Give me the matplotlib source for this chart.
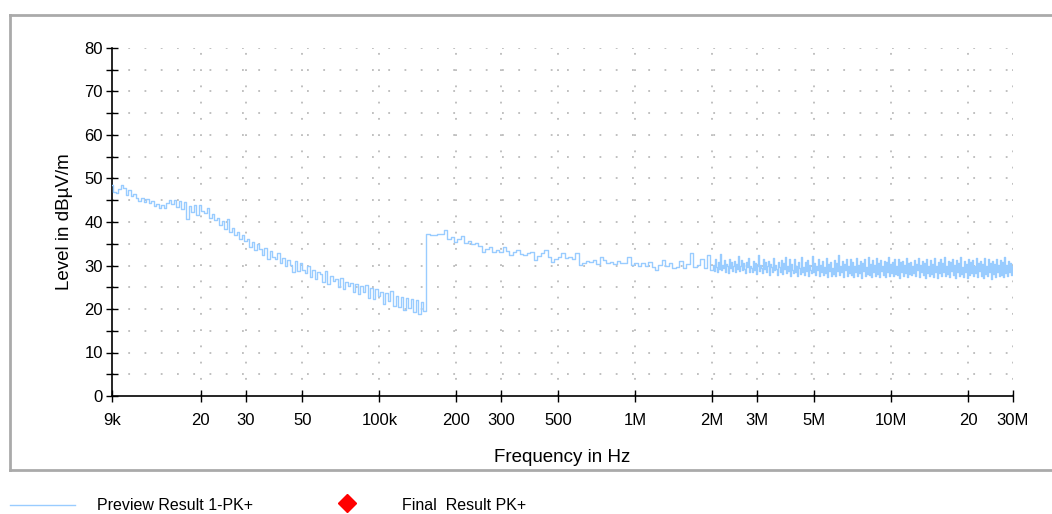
import numpy as np
import matplotlib
matplotlib.use("Agg")
import matplotlib.pyplot as plt
from matplotlib.lines import Line2D

plt.rcParams['font.family'] = ['Liberation Sans', 'DejaVu Sans']

# ---- data -------------------------------------------------------------
# sweep segments (Hz): start / stop of each measured band
seg1_range = [9e3, 150e3]
seg2_range = [150e3, 2e6]
seg3_range = [2e6, 30e6]

seg1_levels = [
    48.5, 47.0, 46.6, 47.5, 48.5,
    47.8, 46.2, 47.3, 45.9, 46.4, 45.5,
    44.8, 45.6, 44.6, 45.2, 44.4, 44.9,
    43.6, 44.2, 43.3, 43.9, 43.2, 44.4,
    45.0, 44.2, 45.0, 43.5, 44.8, 43.0,
    44.5, 40.8, 43.6, 42.2, 44.0, 41.5,
    43.8, 42.5, 42.0, 43.2, 41.0, 41.8,
    40.5, 41.0, 39.2, 40.2, 38.5, 40.8,
    37.8, 38.6, 37.0, 37.6, 36.2, 37.0,
    35.6, 36.2, 34.2, 35.3, 33.5, 35.0,
    33.8, 32.4, 34.0, 31.6, 33.3, 32.0,
    31.5, 32.8, 30.5, 31.8, 29.8, 31.2,
    30.2, 28.6, 31.0, 28.8, 30.5, 29.0,
    28.2, 29.8, 27.4, 29.0, 26.8, 28.6,
    28.0, 26.2, 28.8, 25.8, 27.6, 26.4,
    27.0, 25.0, 27.2, 24.6, 26.2, 25.2,
    26.0, 23.8, 25.8, 23.4, 25.4, 24.0,
    25.6, 22.6, 24.8, 22.4, 24.6, 23.0,
    24.0, 21.2, 23.6, 21.8, 24.2, 20.8,
    23.0, 20.4, 22.8, 19.8, 22.6, 20.2,
    22.4, 19.4, 22.0, 18.8, 21.6, 19.6,
]

seg2_levels = [
    37.2, 36.9, 37.1, 37.3, 37.2, 38.2, 36.1, 36.6, 35.4, 36.2,
    36.8, 35.2, 35.6, 35.0, 35.2, 34.5, 33.1, 33.9, 34.3, 33.2,
    33.6, 33.0, 34.3, 33.4, 32.4, 33.0, 33.6, 32.6, 32.4, 32.9,
    33.1, 31.3, 32.2, 32.8, 33.6, 32.0, 30.8, 31.6, 32.0, 32.9,
    31.8, 32.0, 31.4, 32.9, 30.1, 30.6, 31.0, 30.8, 31.3, 30.4,
    32.0, 31.2, 30.6, 30.8, 30.3, 31.0, 30.5, 30.6, 32.0, 30.2,
    30.6, 29.8, 30.6, 30.0, 30.8, 29.6, 29.0, 30.2, 31.3, 29.8,
    30.5, 29.5, 29.7, 31.0, 29.4, 30.4, 32.9, 29.6, 30.1, 31.4,
    29.4, 32.4, 29.0,
]

seg3_levels = [
    30.2, 28.8, 31.4, 29.6, 28.4, 30.9, 29.2, 32.6, 28.9, 30.1, 29.5, 31.2, 28.6, 30.4, 29.8, 28.3, 31.6, 29.4, 30.7, 28.8,
    29.9, 31.0, 28.5, 30.3, 29.1, 32.1, 28.7, 29.8, 31.3, 28.9, 30.6, 29.3, 28.2, 30.8, 29.7, 31.7, 28.6, 30.0, 29.4, 28.4,
    31.1, 29.0, 30.5, 28.1, 29.9, 32.4, 28.8, 30.2, 29.5, 28.3, 31.5, 29.2, 30.7, 28.6, 29.8, 31.0, 27.9, 30.4, 29.6, 28.5,
    31.8, 28.9, 30.1, 29.3, 27.8, 30.9, 29.7, 28.4, 31.2, 28.0, 30.6, 29.1, 32.0, 28.2, 29.9, 28.7, 31.4, 27.7, 30.3, 29.0,
    28.3, 31.6, 28.6, 30.0, 27.6, 30.8, 29.4, 28.1, 31.9, 28.5, 29.6, 27.9, 30.7, 28.8, 31.3, 27.5, 30.2, 29.0, 28.2, 32.1,
    28.4, 30.5, 27.8, 29.8, 28.9, 31.5, 27.6, 30.1, 28.6, 31.0, 27.9, 29.7, 28.3, 31.7, 27.4, 30.4, 28.8, 30.9, 27.7, 29.5,
    28.1, 31.2, 27.5, 30.6, 28.7, 32.3, 27.8, 29.9, 28.4, 31.1, 27.3, 30.3, 28.9, 31.6, 27.6, 30.0, 28.2, 31.4, 27.9, 30.7,
    27.4, 29.8, 28.6, 31.8, 27.7, 30.2, 28.3, 31.0, 27.2, 30.5, 28.8, 31.5, 27.5, 29.7, 28.1, 32.0, 27.8, 30.4, 27.3, 31.2,
    28.5, 30.1, 27.6, 31.7, 28.0, 30.6, 27.4, 31.3, 28.7, 29.9, 27.9, 31.0, 27.3, 30.8, 28.4, 31.9, 27.6, 30.3, 28.2, 30.9,
    27.5, 31.4, 28.1, 30.0, 27.8, 31.6, 27.2, 30.7, 28.6, 31.1, 27.7, 30.2, 28.3, 31.8, 27.4, 30.5, 28.0, 30.9, 27.9, 29.8,
    28.2, 31.3, 27.6, 30.4, 28.9, 31.7, 27.3, 30.1, 28.5, 31.0, 27.8, 30.6, 27.2, 31.5, 28.3, 29.9, 27.6, 31.2, 28.0, 30.3,
    27.4, 31.8, 28.6, 30.0, 27.1, 30.9, 28.2, 31.4, 27.7, 30.5, 28.4, 32.0, 27.5, 29.8, 28.1, 31.1, 27.3, 30.7, 28.7, 31.6,
    27.9, 30.2, 27.2, 31.3, 28.4, 30.6, 27.6, 31.9, 28.0, 29.7, 27.4, 31.0, 28.6, 30.4, 27.1, 31.5, 27.8, 30.8, 28.3, 31.2,
    27.5, 30.0, 28.2, 31.7, 27.3, 30.5, 28.8, 31.1, 27.6, 30.3, 27.2, 31.8, 28.1, 29.9, 27.7, 31.4, 28.4, 30.6, 27.0, 31.0,
    28.0, 30.4, 27.4, 31.6, 28.5, 30.1, 27.6, 31.3, 27.9, 30.7, 27.3, 31.9, 28.2, 30.2, 27.5, 31.1, 28.6, 30.5, 27.8, 30.0,
]

x_ticks = [9e3, 20e3, 30e3, 50e3, 100e3, 200e3, 300e3, 500e3,
           1e6, 2e6, 3e6, 5e6, 10e6, 20e6, 30e6]
x_ticklabels = ['9k', '20', '30', '50', '100k', '200', '300', '500',
                '1M', '2M', '3M', '5M', '10M', '20', '30M']
y_ticks = [0, 10, 20, 30, 40, 50, 60, 70, 80]

# ---- build trace -------------------------------------------------------
f1 = np.geomspace(seg1_range[0], seg1_range[1], len(seg1_levels))
f2 = np.geomspace(seg2_range[0], seg2_range[1], len(seg2_levels) + 1)[1:]
f3 = np.geomspace(seg3_range[0], seg3_range[1], len(seg3_levels) + 1)[1:]
freq = np.concatenate([f1, f2, f3])
level = np.concatenate([seg1_levels, seg2_levels, seg3_levels])

# ---- figure -----------------------------------------------------------
W, H = 1052, 514
fig = plt.figure(figsize=(W / 100, H / 100), dpi=100)
ax = fig.add_axes([112 / W, 1 - 396 / H, (1013 - 112) / W, (396 - 48) / H])

line_color = '#99CCFF'
ax.plot(freq, level, color=line_color, lw=1.0, drawstyle='steps-mid', zorder=3)

ax.set_xscale('log')
ax.set_xlim(9e3, 30e6)
ax.set_ylim(0, 80)

ax.set_xticks(x_ticks)
ax.set_xticklabels(x_ticklabels)
ax.xaxis.set_minor_locator(matplotlib.ticker.NullLocator())
ax.set_yticks(y_ticks)
ax.set_yticks(np.arange(5, 80, 10), minor=True)

for s in ['top', 'right']:
    ax.spines[s].set_visible(False)
for s in ['left', 'bottom']:
    ax.spines[s].set_color('black')
    ax.spines[s].set_linewidth(1.2)

ax.tick_params(axis='both', which='both', direction='inout', length=9,
               width=1.0, colors='black', labelsize=12)
ax.tick_params(axis='x', pad=8)
ax.tick_params(axis='y', pad=2)

# dotted grid
grid_kw = dict(color='#BBBBBB', lw=1.3, linestyle=(0, (1, 8)), zorder=1)
for yv in np.arange(5, 81, 5):
    ax.axhline(yv, **grid_kw)
for xv in x_ticks[1:]:
    ax.axvline(xv, **grid_kw)

ax.set_ylabel('Level in dBµV/m', fontsize=13.5, labelpad=8)
ax.set_xlabel('Frequency in Hz', fontsize=13.5, labelpad=15)

# outer frame
frame_kw = dict(color='#AAAAAA', lw=2, transform=fig.transFigure, clip_on=False)
fig.add_artist(Line2D([10 / W, 1.0], [1 - 15 / H, 1 - 15 / H], **frame_kw))
fig.add_artist(Line2D([10 / W, 10 / W], [1 - 15 / H, 1 - 470 / H], **frame_kw))
fig.add_artist(Line2D([10 / W, 1.0], [1 - 470 / H, 1 - 470 / H], **frame_kw))

# legend below
ly = 1 - 505 / H
fig.add_artist(Line2D([10 / W, 75 / W], [ly, ly], color=line_color, lw=1.0,
                      transform=fig.transFigure))
fig.text(97 / W, ly, 'Preview Result 1-PK+', fontsize=11.5, va='center', ha='left')
fig.add_artist(Line2D([347 / W], [1 - 503 / H], marker='D', color='red',
                      markersize=9, linestyle='none', transform=fig.transFigure))
fig.text(402 / W, ly, 'Final  Result PK+', fontsize=11.5, va='center', ha='left')

fig.savefig('out.png', dpi=100)
